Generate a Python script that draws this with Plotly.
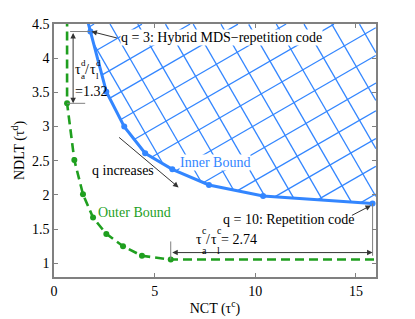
import numpy as np
import plotly.graph_objects as go

# ---------------- data ----------------
q_values = [3, 4, 5, 6, 7, 8, 9, 10]
inner_nct = [1.81, 2.60, 3.49, 4.53, 5.88, 7.70, 10.39, 15.83]
inner_ndlt = [4.39, 3.51, 3.00, 2.61, 2.375, 2.146, 1.986, 1.876]
outer_nct = [0.65, 1.01, 1.44, 1.94, 2.60, 3.43, 4.37, 5.80]
outer_ndlt = [3.34, 2.51, 2.01, 1.67, 1.43, 1.25, 1.11, 1.055]
x_ticks = [0, 5, 10, 15]
y_ticks = [1, 1.5, 2, 2.5, 3, 3.5, 4, 4.5]
ratio_d = 1.32
ratio_c = 2.74

# ---------------- layout constants ----------------
PAGE_OFF = 8  # default body margin of the html page
W, H = 415 - PAGE_OFF, 319 - PAGE_OFF
ML, MR, MT, MB = 54 - PAGE_OFF, 39, 24 - PAGE_OFF, 42
X_MIN, X_MAX = 0, 16
Y_MIN, Y_MAX = 0.8, 4.5
BLUE = "#3386ff"
GREEN = "#1f9f1f"
FONT = '"Liberation Serif", "Times New Roman", Times, serif'
GRAY = "#808080"

# extended curves (asymptotes / continuation to plot edges)
slope0 = (inner_nct[1] - inner_nct[0]) / (inner_ndlt[1] - inner_ndlt[0])
y_ext = Y_MAX + 0.3
inner_x_line = [inner_nct[0] + (y_ext - inner_ndlt[0]) * slope0] + inner_nct
inner_y_line = [y_ext] + inner_ndlt
outer_x_line = [outer_nct[0]] + outer_nct + [X_MAX + 0.5]
outer_y_line = [y_ext] + outer_ndlt + [outer_ndlt[-1]]

# ---------------- hatch lines (clipped to achievable region) ----------------
pw, ph = W - ML - MR, H - MT - MB
sx, sy = pw / (X_MAX - X_MIN), ph / (Y_MAX - Y_MIN)
ix_sorted = np.array(inner_x_line)
iy_sorted = np.array(inner_y_line)


def inside(xd, yd):
    lower = np.interp(xd, ix_sorted, iy_sorted, left=np.inf, right=iy_sorted[-1])
    return (xd >= X_MIN) & (xd <= X_MAX) & (yd <= Y_MAX) & (yd >= lower)


hx, hy = [], []
spacing = 24.0
diag = np.hypot(pw, ph)
for ang in (np.deg2rad(30), np.deg2rad(-60)):
    d = np.array([np.cos(ang), np.sin(ang)])
    n = np.array([-np.sin(ang), np.cos(ang)])
    t = np.linspace(-1.5 * diag, 1.5 * diag, 3000)
    for k in np.arange(-int(2 * diag / spacing), int(2 * diag / spacing) + 1):
        base = n * (k * spacing + 7)
        px = base[0] + t * d[0]
        py = base[1] + t * d[1]
        xd = X_MIN + px / sx
        yd = Y_MIN + py / sy
        m = inside(xd, yd)
        if m.sum() < 2:
            continue
        idx = np.where(m)[0]
        hx += [xd[idx[0]], xd[idx[-1]], None]
        hy += [yd[idx[0]], yd[idx[-1]], None]

fig = go.Figure()
fig.add_trace(go.Scatter(x=hx, y=hy, mode="lines", line=dict(color=BLUE, width=1.3),
                         hoverinfo="skip", showlegend=False))
fig.add_trace(go.Scatter(x=outer_x_line, y=outer_y_line, mode="lines",
                         line=dict(color=GREEN, width=2.6, dash="9px,5px"), showlegend=False))
fig.add_trace(go.Scatter(x=outer_nct, y=outer_ndlt, mode="markers",
                         marker=dict(color=GREEN, size=6), showlegend=False))
fig.add_trace(go.Scatter(x=inner_x_line, y=inner_y_line, mode="lines",
                         line=dict(color=BLUE, width=3), showlegend=False))
fig.add_trace(go.Scatter(x=inner_nct, y=inner_ndlt, mode="markers",
                         marker=dict(color=BLUE, size=6), showlegend=False))

# ---------------- helper lines (gray extension lines) ----------------
shapes = [
    dict(type="line", x0=outer_nct[0] + 0.15, x1=inner_nct[0], y0=inner_ndlt[0], y1=inner_ndlt[0],
         line=dict(color=GRAY, width=1)),
    dict(type="line", x0=outer_nct[0], x1=outer_nct[0] + 0.9, y0=outer_ndlt[0], y1=outer_ndlt[0],
         line=dict(color=GRAY, width=1)),
    dict(type="line", x0=outer_nct[-1], x1=outer_nct[-1], y0=outer_ndlt[-1], y1=1.32,
         line=dict(color=GRAY, width=1)),
    dict(type="line", x0=inner_nct[-1], x1=inner_nct[-1], y0=inner_ndlt[-1], y1=1.11,
         line=dict(color=GRAY, width=1)),
]

AF = dict(family=FONT, size=14, color="black")
ARROW = dict(showarrow=True, arrowhead=2, arrowsize=1.1, arrowwidth=1, arrowcolor="#333333",
             axref="x", ayref="y", text="")


def txt(x, y, text, font=AF, dx=0, dy=0, **kw):
    return dict(x=x, y=y, text=text, showarrow=False, xanchor="left", yanchor="middle",
                xshift=dx, yshift=dy, font=font, borderpad=0, **kw)


def ratio_label(x, y, sup, tail, up, down, ssize):
    """tau^sup_a / tau^sup_l with stacked super/subscripts, followed by tail text."""
    sf = dict(family=FONT, size=ssize, color="black")
    out = [
        txt(x, y, "\u03c4", dx=-1),
        txt(x, y, sup, sf, dx=5, dy=up),
        txt(x, y, "a", sf, dx=5, dy=-down),
        txt(x, y, "/", dx=9),
        txt(x, y, "\u03c4", dx=14),
        txt(x, y, sup, sf, dx=20, dy=up),
        txt(x, y, "l", sf, dx=20, dy=-down),
    ]
    if tail:
        out.append(txt(x, y, tail, dx=24))
    return out


annotations = [
    # q = 3 label + arrow
    txt(3.3, 4.30, "q = 3: Hybrid MDS\u2212repetition code", bgcolor="white"),
    dict(x=inner_nct[0] + 0.05, y=inner_ndlt[0], ax=3.2, ay=4.29, **ARROW),
    # vertical double arrow (NDLT ratio)
    dict(x=0.95, y=outer_ndlt[0], ax=0.95, ay=inner_ndlt[0], arrowside="end+start", **ARROW),
    # q increases
    txt(1.85, 2.36, "q increases"),
    dict(x=6.19, y=2.11, ax=3.16, ay=2.86, **ARROW),
    # bound labels
    txt(6.19, 2.47, "Inner Bound", dict(family=FONT, size=14, color=BLUE), bgcolor="white"),
    txt(2.16, 1.74, "Outer Bound", dict(family=FONT, size=14, color=GREEN)),
    # q = 10
    txt(8.36, 1.635, "q = 10: Repetition code"),
    dict(x=inner_nct[-1] - 0.08, y=inner_ndlt[-1] - 0.03, ax=14.73, ay=1.69, **ARROW),
    # horizontal double arrow (NCT ratio)
    dict(x=inner_nct[-1], y=1.157, ax=outer_nct[-1], ay=1.157, arrowside="end+start", **ARROW),
    # "=1.32" line under the NDLT ratio label
    txt(0.98, 3.52, "=%.2f" % ratio_d),
]
annotations += ratio_label(1.05, 3.83, "d", "", 7, 6, 9)
annotations += ratio_label(7.05, 1.345, "c", "= %.2f" % ratio_c, 9, 11, 10)

axis_common = dict(showline=True, linecolor=GRAY, linewidth=1.5, mirror="ticks", ticks="inside",
                   ticklen=4, tickcolor=GRAY, showgrid=False, zeroline=False, automargin=False,
                   tickfont=dict(family=FONT, size=14, color="black"))
fig.update_layout(
    width=W, height=H, margin=dict(l=ML, r=MR, t=MT, b=MB),
    paper_bgcolor="white", plot_bgcolor="white",
    xaxis=dict(range=[X_MIN, X_MAX], tickvals=x_ticks, ticktext=[str(v) for v in x_ticks],
               title=dict(text="NCT (\u03c4<sup>c</sup>)", font=dict(family=FONT, size=14, color="black"),
                          standoff=6), **axis_common),
    yaxis=dict(range=[Y_MIN, Y_MAX], tickvals=y_ticks, ticktext=[("%g" % v) for v in y_ticks],
               title=dict(text="NDLT (\u03c4<sup>d</sup>)", font=dict(family=FONT, size=14, color="black"),
                          standoff=4), **axis_common),
    shapes=shapes, annotations=annotations, showlegend=False,
)
fig.write_html("out.html")
